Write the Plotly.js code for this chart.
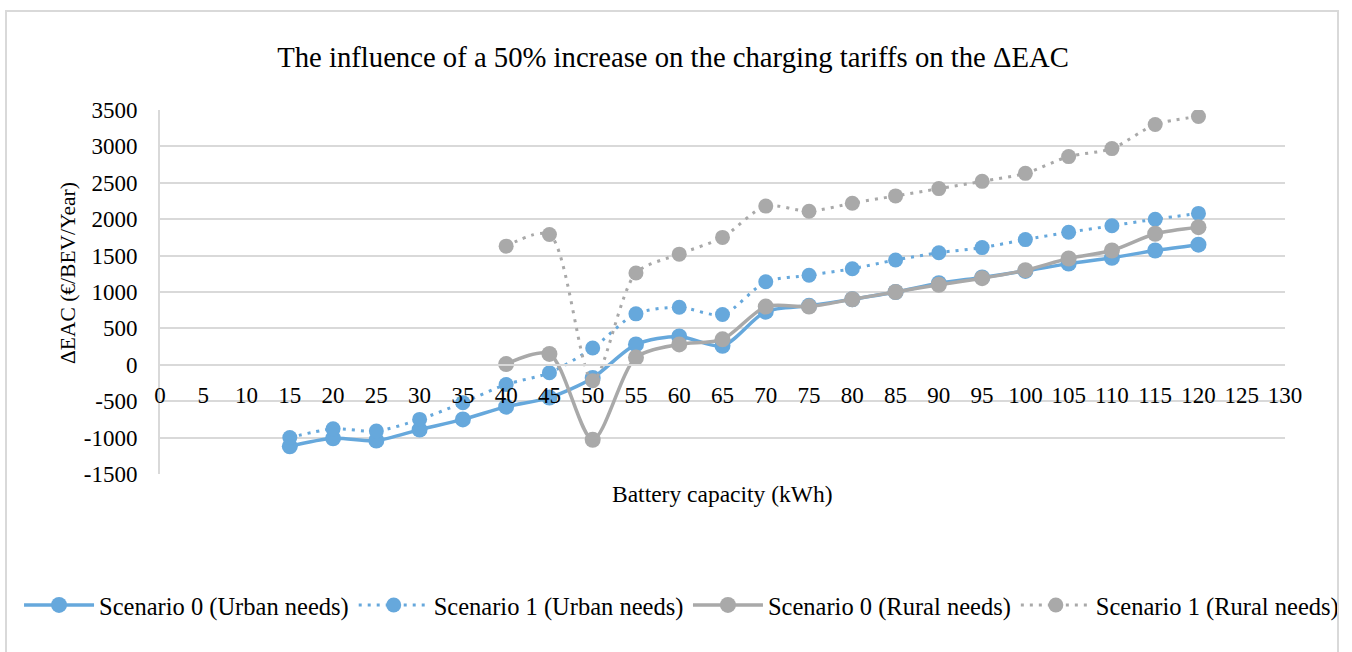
<!DOCTYPE html>
<html>
<head>
<meta charset="utf-8">
<script src="https://cdn.plot.ly/plotly-3.0.1.min.js"></script>
<style>
html,body{margin:0;padding:0;background:#fff;}
#chart{position:absolute;left:0;top:0;width:1352px;height:652px;}
#frame{position:absolute;left:5px;top:10px;width:1330px;height:700px;border:2px solid #d9d9d9;pointer-events:none;}
</style>
</head>
<body>
<div id="chart"></div>
<div id="frame"></div>
<script>
// ---- data ----
const xUrban = [15,20,25,30,35,40,45,50,55,60,65,70,75,80,85,90,95,100,105,110,115,120];
const s0Urban = [-1120,-1010,-1040,-890,-750,-575,-450,-180,280,390,260,730,810,900,1000,1120,1200,1290,1390,1470,1570,1650];
const s1Urban = [-1000,-880,-910,-750,-520,-270,-110,230,700,790,690,1140,1230,1320,1440,1540,1610,1720,1820,1910,2000,2080];
const xRural = [40,45,50,55,60,65,70,75,80,85,90,95,100,105,110,115,120];
const s0Rural = [10,150,-1030,100,280,350,800,800,900,1000,1100,1190,1300,1460,1570,1800,1890];
const s1Rural = [1630,1790,-220,1260,1520,1750,2180,2110,2220,2320,2420,2520,2630,2860,2970,3300,3410];
const seriesNames = ["Scenario 0 (Urban needs)","Scenario 1 (Urban needs)","Scenario 0 (Rural needs)","Scenario 1 (Rural needs)"];
const xTickVals = [0,5,10,15,20,25,30,35,40,45,50,55,60,65,70,75,80,85,90,95,100,105,110,115,120,125,130];
const xTickText = ["0","5","10","15","20","25","30","35","40","45","50","55","60","65","70","75","80","85","90","95","100","105","110","115","120","125","130"];
const yTickVals = [-1500,-1000,-500,0,500,1000,1500,2000,2500,3000,3500];
const yTickText = ["-1500","-1000","-500","0","500","1000","1500","2000","2500","3000","3500"];
const chartTitle = "The influence of a 50% increase on the charging tariffs on the ΔEAC";
const xTitle = "Battery capacity (kWh)";
const yTitle = "ΔEAC (€/BEV/Year)";

const BLUE = "#66a8dc";
const GRAY = "#a9a9a9";
const FONT = "Liberation Serif, Times New Roman, serif";

function tr(x, y, name, color, dotted, legendId){
  return {
    x: x, y: y, name: name, type: "scatter", mode: "lines+markers", legend: legendId,
    line: {color: color, width: dotted ? 3 : 3.5, dash: dotted ? "3px,6px" : "solid", shape: "spline", smoothing: 0.8},
    marker: {color: color, size: dotted ? 15 : 16, symbol: "circle"},
    hoverinfo: "x+y"
  };
}

const data = [
  tr(xUrban, s0Urban, seriesNames[0], BLUE, false, "legend"),
  tr(xUrban, s1Urban, seriesNames[1], BLUE, true, "legend"),
  tr(xRural, s0Rural, seriesNames[2], GRAY, false, "legend2"),
  tr(xRural, s1Rural, seriesNames[3], GRAY, true, "legend2")
];

const legendStyle = {orientation: "h", xanchor: "left", y: -0.36, yanchor: "middle",
  itemwidth: 70, font: {family: FONT, size: 24.5, color: "#000"}, bgcolor: "rgba(0,0,0,0)"};

const layout = {
  width: 1352, height: 652,
  margin: {l: 160, r: 67, t: 110, b: 178, autoexpand: false},
  paper_bgcolor: "#fff", plot_bgcolor: "#fff",
  font: {family: FONT, size: 23, color: "#000"},
  title: {text: chartTitle, font: {family: FONT, size: 28.7, color: "#000"},
          x: 0.4978, xref: "container", xanchor: "center", y: 0.9126, yref: "container", yanchor: "middle"},
  xaxis: {
    range: [0, 130], tickvals: xTickVals, ticktext: xTickText,
    anchor: "free", position: 0.3, showgrid: false, zeroline: false,
    showline: true, linecolor: "#d9d9d9", linewidth: 2,
    ticks: "outside", ticklen: 10, tickcolor: "rgba(0,0,0,0)",
    tickfont: {family: FONT, size: 23, color: "#000"}
  },
  yaxis: {
    range: [-1500, 3500], tickvals: yTickVals, ticktext: yTickText,
    showgrid: true, gridcolor: "#d9d9d9", gridwidth: 2,
    zeroline: false, showline: true, linecolor: "#d9d9d9", linewidth: 2,
    ticks: "outside", ticklen: 16, tickcolor: "rgba(0,0,0,0)",
    tickfont: {family: FONT, size: 23, color: "#000"}
  },
  showlegend: true,
  legend: Object.assign({}, legendStyle, {x: -0.1253}),
  legend2: Object.assign({}, legendStyle, {x: 0.4693}),
  annotations: [
    {text: yTitle, xref: "paper", yref: "paper", x: -0.0818, y: 0.552, xanchor: "center", yanchor: "middle",
     textangle: -90, showarrow: false, font: {family: FONT, size: 21.5, color: "#000"}},
    {text: xTitle, xref: "paper", yref: "paper", x: 0.5, y: -0.055, xanchor: "center", yanchor: "middle",
     showarrow: false, font: {family: FONT, size: 23.5, color: "#000"}}
  ]
};

Plotly.newPlot("chart", data, layout, {displayModeBar: false, staticPlot: true});
</script>
</body>
</html>
